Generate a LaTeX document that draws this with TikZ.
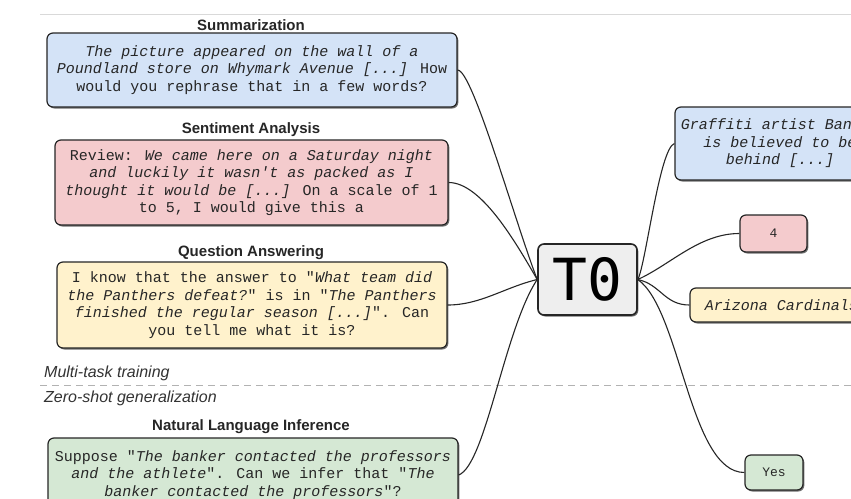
\documentclass[tikz,border=0pt]{standalone}
\usepackage{fontspec}
\setmainfont{Liberation Sans}
\newfontfamily\boxfont{Liberation Mono}
\newfontfamily\tzerofont[RawFeature=+zero]{DejaVu Sans Mono}
\usetikzlibrary{shadows}
\definecolor{cblue}{HTML}{D4E3F7}
\definecolor{cpink}{HTML}{F4CBCD}
\definecolor{cyellow}{HTML}{FFF2CC}
\definecolor{cgreen}{HTML}{D5E8D4}
\definecolor{cgray}{HTML}{EEEEEE}
\tikzset{
  box/.style={draw=black!85, line width=1.2pt, rounded corners=6pt, align=center,
    inner sep=0pt, text=black!85,
    font=\boxfont\fontsize{15}{17.5}\selectfont,
    drop shadow={shadow xshift=1.3pt, shadow yshift=-1.5pt, fill=black!70, opacity=0.8}},
  itbox/.style={box, font=\boxfont\itshape\fontsize{15}{17.5}\selectfont},
  smallbox/.style={box, font=\boxfont\fontsize{13}{15}\selectfont},
  tasktitle/.style={font=\bfseries\fontsize{15}{18}\selectfont, text=black!85, inner sep=0pt},
  sidelab/.style={font=\itshape\fontsize{16}{19}\selectfont, text=black!80, anchor=west, inner sep=0pt},
  conn/.style={draw=black!85, line width=1.1pt},
  rule/.style={draw=black!15, line width=1pt},
  dashrule/.style={draw=black!30, line width=1pt, dash pattern=on 7pt off 5pt}
}
\begin{document}
\begin{tikzpicture}[x=1pt,y=-1pt]
\useasboundingbox (0,0) rectangle (851,498);
\clip (0,0) rectangle (851,498);
\fill[white] (0,0) rectangle (851,498);

\coordinate (r1a) at (40,14);
\coordinate (r1b) at (851,14);
\coordinate (r2a) at (40,385);
\coordinate (r2b) at (851,385);
\draw[rule] (r1a) -- (r1b);
\draw[dashrule] (r2a) -- (r2b);

% left: inputs
\node[tasktitle] (tsum) at (251,25) {Summarization};
\node[box, fill=cblue, minimum width=410pt, minimum height=74pt] (sum) at (252,70)
  {{\itshape The picture appeared on the wall of a}\\
   {\itshape Poundland store on Whymark Avenue [...]} How\\
   would you rephrase that in a few words?};

\node[tasktitle] (tsent) at (251,130) {Sentiment Analysis};
\node[box, fill=cpink, minimum width=393pt, minimum height=85pt] (sent) at (251.5,182.5)
  {Review: {\itshape We came here on a Saturday night}\\
   {\itshape and luckily it wasn't as packed as I}\\
   {\itshape thought it would be [...]} On a scale of 1\\
   to 5, I would give this a};

\node[tasktitle] (tqa) at (251,253) {Question Answering};
\node[box, fill=cyellow, minimum width=390pt, minimum height=86pt] (qa) at (252,305)
  {I know that the answer to "{\itshape What team did}\\
   {\itshape the Panthers defeat?}" is in "{\itshape The Panthers}\\
   {\itshape finished the regular season [...]}". Can\\
   you tell me what it is?};

\node[sidelab] (mtt) at (44,373) {Multi-task training};
\node[sidelab] (zsg) at (44,398) {Zero-shot generalization};

\node[tasktitle] (tnli) at (251,427) {Natural Language Inference};
\node[box, fill=cgreen, minimum width=410pt, minimum height=74pt] (nli) at (253,475)
  {Suppose "{\itshape The banker contacted the professors}\\
   {\itshape and the athlete}". Can we infer that "{\itshape The}\\
   {\itshape banker contacted the professors}"?};

% centre
\node[box, fill=cgray, minimum width=99pt, minimum height=71pt, text=black, line width=1.6pt,
  font=\tzerofont\fontsize{58}{60}\selectfont] (t0) at (587.5,279.5) {T0};

% right: outputs
\node[itbox, fill=cblue, minimum width=210pt, minimum height=73pt] (o1) at (780,143.5)
  {Graffiti artist Banksy\\ is believed to be\\ behind [...]};
\node[smallbox, fill=cpink, minimum width=67pt, minimum height=37pt] (o2) at (773.5,233.5) {4};
\node[itbox, fill=cyellow, minimum width=183pt, minimum height=34pt] (o3) at (781.5,305)
  {Arizona Cardinals};
\node[smallbox, fill=cgreen, minimum width=58pt, minimum height=35pt] (o4) at (774,472.5) {Yes};

% connectors
\draw[conn] (sum.east) .. controls +(15,0) and +(-23,-60) .. (t0.west);
\draw[conn] (sent.east) .. controls +(32,0) and +(-23,-40) .. (t0.west);
\draw[conn] (qa.east) .. controls +(33,0) and +(-33,8) .. (t0.west);
\draw[conn] (nli.east) .. controls +(27,-10) and +(-33,50) .. (t0.west);

\draw[conn] (t0.east) .. controls +(8,-15) and +(-15,5) .. (o1.west);
\draw[conn] (t0.east) .. controls +(33,-15) and +(-40,0) .. (o2.west);
\draw[conn] (t0.east) .. controls +(23,5) and +(-25,0) .. (o3.west);
\draw[conn] (t0.east) .. controls +(43,30) and +(-55,0) .. (o4.west);
\end{tikzpicture}
\end{document}
